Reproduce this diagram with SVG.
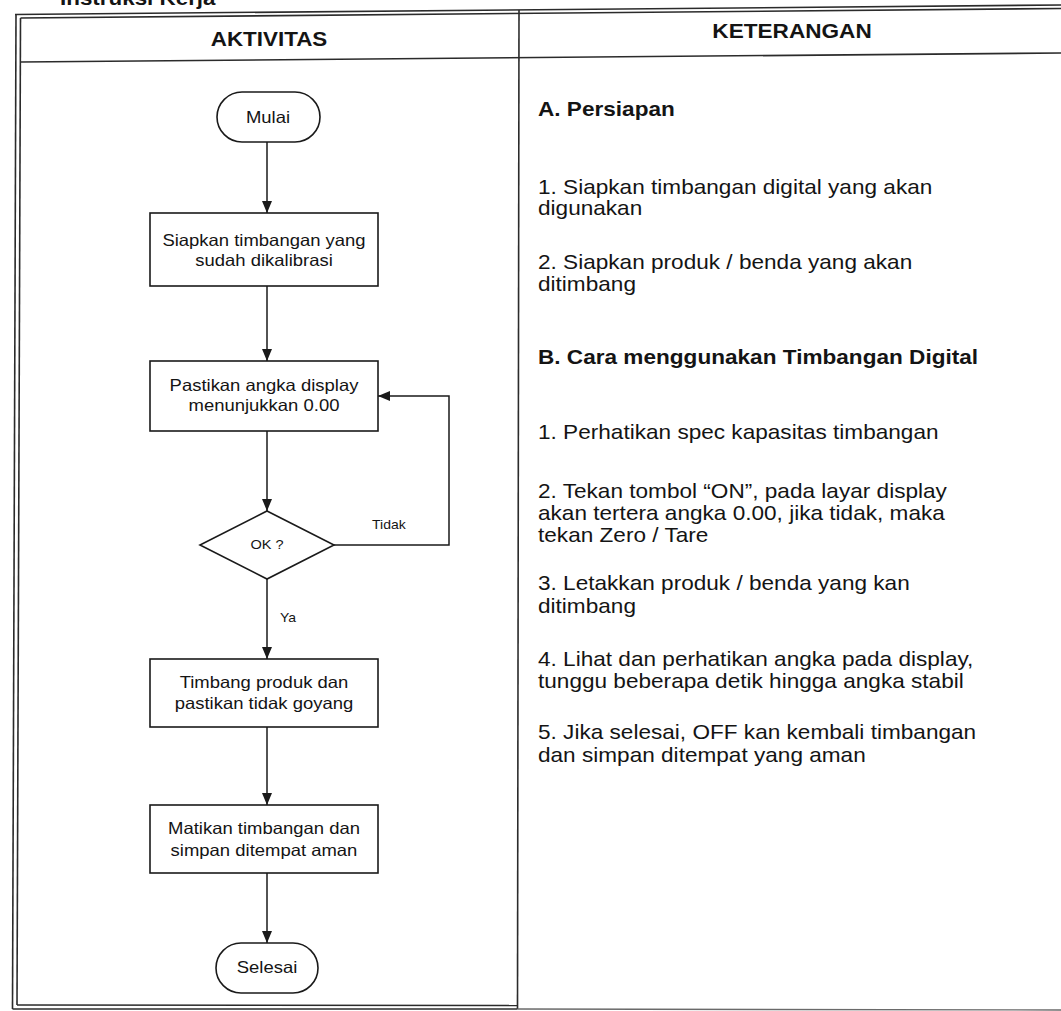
<svg xmlns="http://www.w3.org/2000/svg" width="1061" height="1011" viewBox="0 0 1061 1011">
  <defs>
    <marker id="arrow" viewBox="0 0 12 12" refX="12" refY="6" markerWidth="12" markerHeight="12" markerUnits="userSpaceOnUse" orient="auto">
      <path d="M0,1 L12,6 L0,11 Z" fill="#1a1a1a"/>
    </marker>
    <style>
      .frame { fill: none; stroke: #2b2b2b; stroke-width: 1.6; }
      .frame-light { fill: none; stroke: #6a6a6a; stroke-width: 1.4; }
      .shape { fill: #ffffff; stroke: #1a1a1a; stroke-width: 1.6; }
      .edge { fill: none; stroke: #1a1a1a; stroke-width: 1.5; }
      .head { font-family: "Liberation Sans", Arial, sans-serif; font-weight: bold; font-size: 20px; fill: #141414; }
      .node-text { font-family: "Liberation Sans", Arial, sans-serif; font-size: 16.5px; fill: #141414; text-anchor: middle; }
      .label { font-family: "Liberation Sans", Arial, sans-serif; font-size: 12.5px; fill: #141414; }
      .note { font-family: "Liberation Sans", Arial, sans-serif; font-size: 20px; fill: #141414; }
      .note-bold { font-family: "Liberation Sans", Arial, sans-serif; font-size: 20px; font-weight: bold; fill: #141414; }
    </style>
  </defs>

  <rect width="1061" height="1011" fill="#ffffff"/>

  <!-- section title, cut by the page edge -->
  <text class="head" transform="translate(60,5) scale(1.12 1)">Instruksi Kerja</text>

  <!-- table frame -->
  <g id="table">
    <line class="frame" x1="15" y1="14.5" x2="1061" y2="5"/>
    <line class="frame" x1="20.5" y1="18" x2="1061" y2="8.5"/>
    <line class="frame" x1="16" y1="14.5" x2="12.5" y2="1009"/>
    <line class="frame" x1="20.5" y1="18" x2="17" y2="1005"/>
    <line class="frame" x1="20.5" y1="62" x2="1061" y2="53"/>
    <line class="frame" x1="519" y1="10" x2="517.5" y2="1009"/>
    <line class="frame" x1="12.5" y1="1009" x2="517.5" y2="1009"/>
    <line class="frame" x1="17" y1="1005" x2="517.5" y2="1005.5"/>
    <line class="frame-light" x1="517.5" y1="1009" x2="1061" y2="1010"/>
    <text class="head" text-anchor="middle" transform="translate(269,46) scale(1.12 1)">AKTIVITAS</text>
    <text class="head" text-anchor="middle" transform="translate(792,38) scale(1.13 1)">KETERANGAN</text>
  </g>

  <!-- flowchart connectors -->
  <g id="connectors">
    <line class="edge" x1="267" y1="142" x2="267" y2="213" marker-end="url(#arrow)"/>
    <line class="edge" x1="267" y1="286" x2="267" y2="361" marker-end="url(#arrow)"/>
    <line class="edge" x1="267" y1="431" x2="267" y2="511" marker-end="url(#arrow)"/>
    <line class="edge" x1="267" y1="579" x2="267" y2="659" marker-end="url(#arrow)"/>
    <line class="edge" x1="267" y1="727" x2="267" y2="805" marker-end="url(#arrow)"/>
    <line class="edge" x1="267" y1="873" x2="267" y2="943" marker-end="url(#arrow)"/>
    <polyline class="edge" points="334,545 449,545 449,396 378,396" marker-end="url(#arrow)"/>
    <text class="label" transform="translate(372,529) scale(1.12 1)">Tidak</text>
    <text class="label" transform="translate(280,622) scale(1.12 1)">Ya</text>
  </g>

  <!-- flowchart nodes -->
  <g id="mulai">
    <rect class="shape" x="217" y="92" width="103" height="50" rx="25" ry="25"/>
    <text class="node-text" transform="translate(268,123) scale(1.12 1)">Mulai</text>
  </g>
  <g id="siapkan">
    <rect class="shape" x="150" y="213" width="228" height="73"/>
    <text class="node-text" transform="translate(264,246) scale(1.12 1)">Siapkan timbangan yang</text>
    <text class="node-text" transform="translate(264,266) scale(1.12 1)">sudah dikalibrasi</text>
  </g>
  <g id="pastikan">
    <rect class="shape" x="150" y="361" width="228" height="70"/>
    <text class="node-text" transform="translate(264,391) scale(1.12 1)">Pastikan angka display</text>
    <text class="node-text" transform="translate(264,411) scale(1.12 1)">menunjukkan 0.00</text>
  </g>
  <g id="ok">
    <polygon class="shape" points="267,511 334,545 267,579 200,545"/>
    <text class="label" text-anchor="middle" transform="translate(267,549) scale(1.12 1)" style="font-size:13px">OK ?</text>
  </g>
  <g id="timbang">
    <rect class="shape" x="150" y="659" width="228" height="68"/>
    <text class="node-text" transform="translate(264,688) scale(1.12 1)">Timbang produk dan</text>
    <text class="node-text" transform="translate(264,709) scale(1.12 1)">pastikan tidak goyang</text>
  </g>
  <g id="matikan">
    <rect class="shape" x="150" y="805" width="228" height="68"/>
    <text class="node-text" transform="translate(264,834) scale(1.12 1)">Matikan timbangan dan</text>
    <text class="node-text" transform="translate(264,856) scale(1.12 1)">simpan ditempat aman</text>
  </g>
  <g id="selesai">
    <rect class="shape" x="216" y="943" width="102" height="50" rx="25" ry="25"/>
    <text class="node-text" transform="translate(267,973) scale(1.12 1)">Selesai</text>
  </g>

  <!-- notes column -->
  <g id="keterangan">
    <text class="note-bold" transform="translate(538,116) scale(1.13 1)">A. Persiapan</text>
    <text class="note" transform="translate(538,194) scale(1.13 1)">1. Siapkan timbangan digital yang akan</text>
    <text class="note" transform="translate(538,215) scale(1.13 1)">digunakan</text>
    <text class="note" transform="translate(538,269) scale(1.13 1)">2. Siapkan produk / benda yang akan</text>
    <text class="note" transform="translate(538,291) scale(1.13 1)">ditimbang</text>
    <text class="note-bold" transform="translate(538,364) scale(1.13 1)">B. Cara menggunakan Timbangan Digital</text>
    <text class="note" transform="translate(538,439) scale(1.13 1)">1. Perhatikan spec kapasitas timbangan</text>
    <text class="note" transform="translate(538,498) scale(1.13 1)">2. Tekan tombol “ON”, pada layar display</text>
    <text class="note" transform="translate(538,520) scale(1.13 1)">akan tertera angka 0.00, jika tidak, maka</text>
    <text class="note" transform="translate(538,542) scale(1.13 1)">tekan Zero / Tare</text>
    <text class="note" transform="translate(538,590) scale(1.13 1)">3. Letakkan produk / benda yang kan</text>
    <text class="note" transform="translate(538,613) scale(1.13 1)">ditimbang</text>
    <text class="note" transform="translate(538,666) scale(1.13 1)">4. Lihat dan perhatikan angka pada display,</text>
    <text class="note" transform="translate(538,688) scale(1.13 1)">tunggu beberapa detik hingga angka stabil</text>
    <text class="note" transform="translate(538,739) scale(1.13 1)">5. Jika selesai, OFF kan kembali timbangan</text>
    <text class="note" transform="translate(538,762) scale(1.13 1)">dan simpan ditempat yang aman</text>
  </g>
</svg>
